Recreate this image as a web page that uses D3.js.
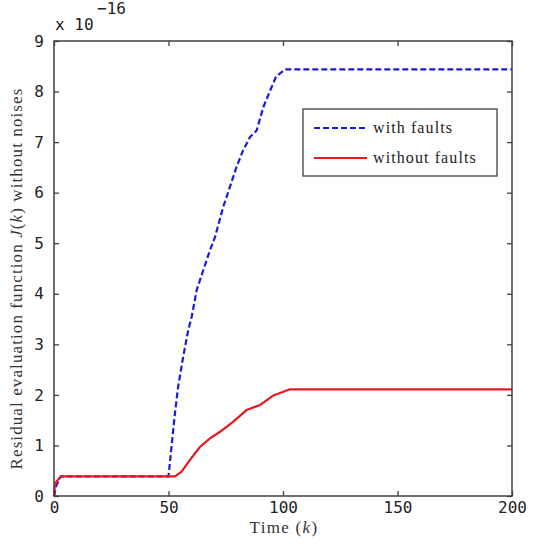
<!DOCTYPE html>
<html><head><meta charset="utf-8">
<script src="https://cdn.jsdelivr.net/npm/d3@7"></script>
<style>body{margin:0;background:#fff}</style>
</head><body>
<svg id="c" width="535" height="550"></svg>
<script>
const xTicks = [0, 50, 100, 150, 200];
const yTicks = [0, 1, 2, 3, 4, 5, 6, 7, 8, 9];
const seriesNames = ["with faults", "without faults"];
// values in units of 1e-16
const faultK = [0, 1, 2, 3, 50, 51.3, 52.8, 54.2, 56.4, 58.6, 60.1, 62.3, 65.2, 68.1, 70.3, 73.9, 76.8, 79.7, 82.6, 85.6, 88.5, 91.4, 94.4, 97, 101, 200];
const faultJ = [0, 0.2, 0.3, 0.39, 0.39, 0.97, 1.63, 2.16, 2.75, 3.28, 3.54, 4.07, 4.47, 4.86, 5.12, 5.72, 6.11, 6.51, 6.84, 7.10, 7.23, 7.69, 8.02, 8.3, 8.44, 8.44];
const noFaultK = [0, 0.3, 1, 2.5, 3, 52.8, 55.7, 59.3, 63.7, 68.1, 72.5, 78.3, 84.1, 90, 95.8, 103, 200];
const noFaultJ = [0, 0.18, 0.28, 0.36, 0.39, 0.39, 0.48, 0.71, 0.97, 1.14, 1.27, 1.47, 1.70, 1.80, 1.99, 2.11, 2.11];

const svg = d3.select("#c");
const L = 54, R = 512, T = 41, B = 496;
const x = d3.scaleLinear().domain([0, 200]).range([L, R]);
const y = d3.scaleLinear().domain([0, 9]).range([B, T]);
const frame = "#404040";
const tickFont = "'DejaVu Sans Mono', monospace";
const serif = "'Liberation Serif', 'DejaVu Serif', serif";

// ticks via axes (inner ticks)
const gB = svg.append("g").attr("transform", `translate(0,${B})`)
  .call(d3.axisBottom(x).tickValues(xTicks).tickSize(-5).tickPadding(6).tickFormat(d3.format("d")));
const gT = svg.append("g").attr("transform", `translate(0,${T})`)
  .call(d3.axisTop(x).tickValues(xTicks).tickSize(-5).tickFormat(""));
const gL = svg.append("g").attr("transform", `translate(${L},0)`)
  .call(d3.axisLeft(y).tickValues(yTicks).tickSize(-5).tickPadding(10).tickFormat(d3.format("d")));
const gR = svg.append("g").attr("transform", `translate(${R},0)`)
  .call(d3.axisRight(y).tickValues(yTicks).tickSize(-5).tickFormat(""));
[gB, gT, gL, gR].forEach(g => {
  g.select(".domain").remove();
  g.selectAll(".tick line").attr("stroke", frame).attr("stroke-width", 1.3);
  g.selectAll(".tick text").attr("font-family", tickFont).attr("font-size", 16).attr("fill", "#222");
});

// curves
const line = d3.line().x(d => x(d[0])).y(d => y(d[1]));
const fault = faultK.map((k, i) => [k, faultJ[i]]);
const noFault = noFaultK.map((k, i) => [k, noFaultJ[i]]);
svg.append("path").datum(fault).attr("d", line).attr("fill", "none")
  .attr("stroke", "#1a1adc").attr("stroke-width", 2.2).attr("stroke-dasharray", "6,3");
svg.append("path").datum(noFault).attr("d", line).attr("fill", "none")
  .attr("stroke", "#e8191e").attr("stroke-width", 2.2);

// frame
svg.append("rect").attr("x", L).attr("y", T).attr("width", R - L).attr("height", B - T)
  .attr("fill", "none").attr("stroke", frame).attr("stroke-width", 1.5);

// exponent
svg.append("text").attr("x", 55).attr("y", 30).attr("font-family", tickFont).attr("font-size", 16)
  .attr("fill", "#222").text("x 10");
svg.append("text").attr("x", 97).attr("y", 14).attr("font-family", tickFont).attr("font-size", 16)
  .attr("fill", "#222").text("\u221216");

// axis labels
const xl = svg.append("text").attr("x", (L + R) / 2 + 1).attr("y", 533).attr("text-anchor", "middle")
  .attr("font-family", serif).attr("font-size", 17).attr("letter-spacing", 1.3).attr("fill", "#333");
xl.append("tspan").text("Time (");
xl.append("tspan").attr("font-style", "italic").text("k");
xl.append("tspan").text(")");

const yl = svg.append("text").attr("transform", `translate(22,${(T + B) / 2 + 10}) rotate(-90)`)
  .attr("text-anchor", "middle").attr("font-family", serif).attr("font-size", 17)
  .attr("letter-spacing", 1.1).attr("fill", "#333");
yl.append("tspan").text("Residual evaluation function ");
yl.append("tspan").attr("font-style", "italic").text("J");
yl.append("tspan").text("(");
yl.append("tspan").attr("font-style", "italic").text("k");
yl.append("tspan").text(") without noises");

// legend
const lg = svg.append("g");
lg.append("rect").attr("x", 303).attr("y", 109).attr("width", 194).attr("height", 67)
  .attr("fill", "#fff").attr("stroke", frame).attr("stroke-width", 1.3);
const legY = [128, 158];
const legStyle = [{c: "#1a1adc", d: "6,3"}, {c: "#e8191e", d: null}];
seriesNames.forEach((n, i) => {
  lg.append("line").attr("x1", 314).attr("x2", 367).attr("y1", legY[i]).attr("y2", legY[i])
    .attr("stroke", legStyle[i].c).attr("stroke-width", 2.2).attr("stroke-dasharray", legStyle[i].d);
  lg.append("text").attr("x", 373).attr("y", legY[i] + 5).attr("font-family", serif)
    .attr("font-size", 16).attr("letter-spacing", 1.1).attr("fill", "#222").text(n);
});
</script>
</body></html>
